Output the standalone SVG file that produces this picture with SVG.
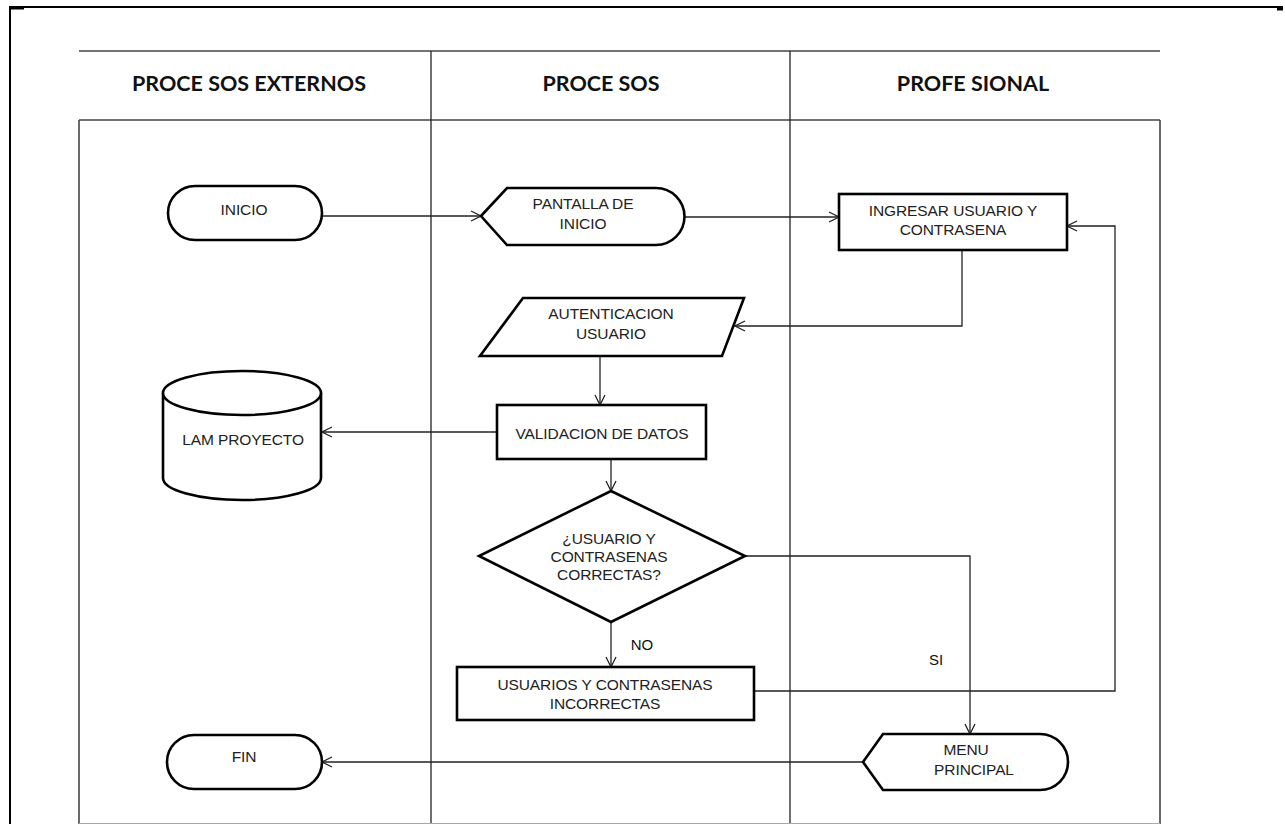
<svg xmlns="http://www.w3.org/2000/svg" width="1285" height="824" viewBox="0 0 1285 824">
  <style>
    .frame { stroke: #000; stroke-width: 2; fill: none; }
    .lane { stroke: #444; stroke-width: 1.6; fill: none; }
    .lane2 { stroke: #222; stroke-width: 1.3; fill: none; }
    .head { font-family: Lato, "Liberation Sans", sans-serif; font-weight: bold; font-size: 21.5px; fill: #111; text-anchor: middle; }
    .shape { stroke: #000; stroke-width: 2.6; fill: #fff; stroke-linejoin: miter; }
    .lbl { font-family: "Liberation Sans", Arial, sans-serif; font-size: 15.5px; letter-spacing: -0.1px; fill: #222; text-anchor: middle; }
    .edge { stroke: #222; stroke-width: 1.3; fill: none; }
    .tag { font-family: "Liberation Sans", Arial, sans-serif; font-size: 15px; fill: #111; text-anchor: middle; }
  </style>
  <defs>
    <marker id="arrow" viewBox="0 0 12 12" refX="11" refY="6" markerWidth="12" markerHeight="12" markerUnits="userSpaceOnUse" orient="auto">
      <path d="M1,1 L11,6 L1,11" fill="none" stroke="#222" stroke-width="1.3"/>
    </marker>
  </defs>

  <rect width="1285" height="824" fill="#fff"/>

  <!-- page frame -->
  <g id="frame">
    <path class="frame" d="M10,824 V7 H1283"/>
    <path d="M10,8 H24" stroke="#000" stroke-width="3"/>
    <path d="M1277,9 H1283" stroke="#000" stroke-width="3"/>
  </g>

  <!-- swimlane table -->
  <g id="lanes">
    <path class="lane" d="M79,51 H1160"/>
    <path class="lane" d="M79,120 H1160"/>
    <path class="lane" d="M79,120 V824"/>
    <path class="lane" d="M1160,120 V824"/>
    <path class="lane2" d="M431,51 V824"/>
    <path class="lane2" d="M790,51 V824"/>
    <path d="M79,823.5 H1160" stroke="#aaa" stroke-width="1"/>
    <text class="head" x="249" y="91">PROCE SOS EXTERNOS</text>
    <text class="head" x="601" y="91">PROCE SOS</text>
    <text class="head" x="973" y="91">PROFE SIONAL</text>
  </g>

  <!-- connectors -->
  <g id="connectors">
    <path class="edge" d="M322,216 H481" marker-end="url(#arrow)"/>
    <path class="edge" d="M684,217 H839" marker-end="url(#arrow)"/>
    <path class="edge" d="M962,250 V326 H735" marker-end="url(#arrow)"/>
    <path class="edge" d="M600,356 V405" marker-end="url(#arrow)"/>
    <path class="edge" d="M497,432 H322" marker-end="url(#arrow)"/>
    <path class="edge" d="M611,459 V491" marker-end="url(#arrow)"/>
    <path class="edge" d="M611,622 V667" marker-end="url(#arrow)"/>
    <path class="edge" d="M745,556 H970 V734" marker-end="url(#arrow)"/>
    <path class="edge" d="M754,691 H1115 V226 H1067" marker-end="url(#arrow)"/>
    <path class="edge" d="M863,762 H322" marker-end="url(#arrow)"/>
    <text class="tag" x="642" y="650">NO</text>
    <text class="tag" x="936" y="665">SI</text>
  </g>

  <!-- nodes -->
  <g id="inicio">
    <rect class="shape" x="168" y="186" width="154" height="54" rx="27" ry="27"/>
    <text class="lbl" x="244" y="215">INICIO</text>
  </g>

  <g id="pantalla-inicio">
    <path class="shape" d="M481,216 L507,188 H656 A28,28 0 0 1 656,245 H507 Z"/>
    <text class="lbl" x="583" y="209">PANTALLA DE</text>
    <text class="lbl" x="583" y="229">INICIO</text>
  </g>

  <g id="ingresar-usuario">
    <rect class="shape" x="839" y="194" width="228" height="56"/>
    <text class="lbl" x="953" y="216">INGRESAR USUARIO Y</text>
    <text class="lbl" x="953" y="235">CONTRASENA</text>
  </g>

  <g id="autenticacion">
    <path class="shape" d="M523,298 H744 L722,356 H480 Z"/>
    <text class="lbl" x="611" y="319">AUTENTICACION</text>
    <text class="lbl" x="611" y="339">USUARIO</text>
  </g>

  <g id="lam-proyecto">
    <path class="shape" d="M163,393 A79,22 0 0 1 321,393 V478 A79,22 0 0 1 163,478 Z"/>
    <path class="shape" d="M163,393 A79,22 0 0 0 321,393" fill="none"/>
    <text class="lbl" x="243" y="445">LAM PROYECTO</text>
  </g>

  <g id="validacion">
    <rect class="shape" x="497" y="405" width="209" height="54"/>
    <text class="lbl" x="602" y="439">VALIDACION DE DATOS</text>
  </g>

  <g id="decision">
    <path class="shape" d="M611,491 L745,556 L611,622 L479,556 Z"/>
    <text class="lbl" x="609" y="544">¿USUARIO Y</text>
    <text class="lbl" x="609" y="562">CONTRASENAS</text>
    <text class="lbl" x="609" y="580">CORRECTAS?</text>
  </g>

  <g id="incorrectas">
    <rect class="shape" x="457" y="667" width="297" height="53"/>
    <text class="lbl" x="605" y="690">USUARIOS Y CONTRASENAS</text>
    <text class="lbl" x="605" y="709">INCORRECTAS</text>
  </g>

  <g id="fin">
    <rect class="shape" x="167" y="735" width="155" height="54" rx="27" ry="27"/>
    <text class="lbl" x="244" y="762">FIN</text>
  </g>

  <g id="menu-principal">
    <path class="shape" d="M863,762 L883,734 H1040 A28,28 0 0 1 1040,790 H883 Z"/>
    <text class="lbl" x="966" y="755">MENU</text>
    <text class="lbl" x="974" y="775">PRINCIPAL</text>
  </g>
</svg>
